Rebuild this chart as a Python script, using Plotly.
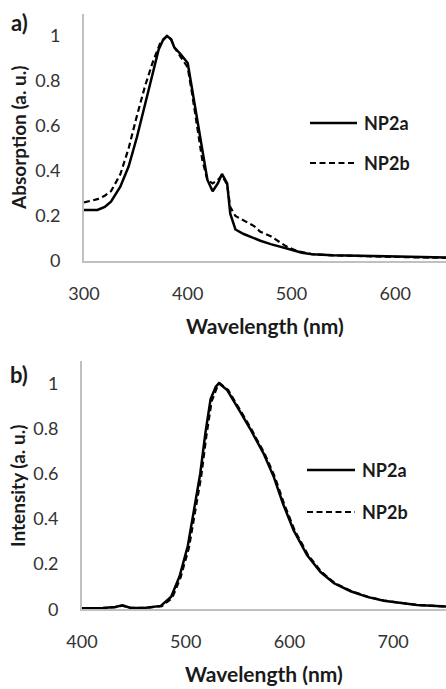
import plotly.graph_objects as go

# ---- Panel a) absorption ----
abs_wl_a = [300, 313, 320, 326, 335, 343, 351, 359, 366, 372, 376, 380, 384, 387, 393, 400, 404,
            409, 414, 419, 424, 429, 433, 438, 441, 446, 454, 464, 470, 480, 490, 500, 510, 520,
            540, 560, 580, 600, 620, 650]
abs_a = [0.227, 0.227, 0.24, 0.264, 0.33, 0.42, 0.55, 0.70, 0.83, 0.94, 0.98, 1.0, 0.985, 0.95,
         0.92, 0.88, 0.77, 0.63, 0.48, 0.36, 0.31, 0.345, 0.387, 0.345, 0.21, 0.14, 0.12, 0.10,
         0.09, 0.075, 0.064, 0.05, 0.037, 0.03, 0.026, 0.024, 0.022, 0.02, 0.018, 0.016]

abs_wl_b = [300, 313, 320, 326, 335, 343, 351, 359, 366, 374, 380, 384, 387, 393, 400, 404, 409,
            414, 419, 424, 429, 433, 438, 441, 446, 454, 464, 470, 480, 490, 495, 505, 520, 540,
            560, 580, 600, 620, 650]
abs_b = [0.26, 0.275, 0.29, 0.31, 0.385, 0.50, 0.645, 0.78, 0.88, 0.975, 1.0, 0.985, 0.95, 0.91, 0.86,
         0.75, 0.60, 0.45, 0.36, 0.345, 0.36, 0.38, 0.34, 0.24, 0.20, 0.18, 0.155, 0.13, 0.11,
         0.08, 0.065, 0.045, 0.03, 0.025, 0.022, 0.02, 0.018, 0.016, 0.014]

# ---- Panel b) emission ----
em_wl_a = [400, 420, 432, 439, 447, 460, 476, 486, 494, 502, 508, 514, 519, 524, 529, 532, 540,
           546, 553, 562, 566, 575, 585, 594, 604, 617, 630, 643, 659, 675, 691, 707, 723, 751]
em_a = [0.005, 0.006, 0.01, 0.018, 0.006, 0.006, 0.015, 0.056, 0.145, 0.28, 0.44, 0.60, 0.78,
        0.93, 0.985, 1.0, 0.97, 0.926, 0.87, 0.80, 0.765, 0.69, 0.585, 0.465, 0.35, 0.24, 0.165,
        0.115, 0.08, 0.055, 0.038, 0.028, 0.019, 0.012]

em_wl_b = [400, 420, 432, 439, 447, 460, 477, 487, 495, 503, 509, 515, 520, 525, 530, 533, 541,
           547, 554, 563, 567, 576, 586, 595, 605, 618, 631, 644, 660, 676, 692, 708, 724, 751]
em_b = [0.004, 0.005, 0.01, 0.016, 0.006, 0.006, 0.014, 0.05, 0.14, 0.27, 0.43, 0.59, 0.77,
        0.92, 0.98, 1.0, 0.97, 0.925, 0.87, 0.80, 0.765, 0.69, 0.585, 0.465, 0.35, 0.24, 0.165,
        0.115, 0.08, 0.055, 0.038, 0.028, 0.019, 0.012]

series_names = ["NP2a", "NP2b"]
y_tickvals = [0, 0.2, 0.4, 0.6, 0.8, 1]
y_ticktext = ["0", "0.2", "0.4", "0.6", "0.8", "1"]
abs_xticks = [300, 400, 500, 600]
em_xticks = [400, 500, 600, 700]

W, H = 446, 689
FONT = "Lato"
TICKC = "#333333"
AXC = "#c0c0c0"
DASH = "6px,3.5px"

def px(x):
    return x / W

def py(y):
    return 1 - y / H

fig = go.Figure()
fig.add_trace(go.Scatter(x=abs_wl_a, y=abs_a, mode="lines", name=series_names[0],
                         line=dict(color="black", width=2.5), xaxis="x", yaxis="y", showlegend=False))
fig.add_trace(go.Scatter(x=abs_wl_b, y=abs_b, mode="lines", name=series_names[1],
                         line=dict(color="black", width=2.2, dash=DASH), xaxis="x", yaxis="y", showlegend=False))
fig.add_trace(go.Scatter(x=em_wl_a, y=em_a, mode="lines", name=series_names[0],
                         line=dict(color="black", width=2.5), xaxis="x2", yaxis="y2", showlegend=False))
fig.add_trace(go.Scatter(x=em_wl_b, y=em_b, mode="lines", name=series_names[1],
                         line=dict(color="black", width=2.2, dash=DASH), xaxis="x2", yaxis="y2", showlegend=False))

common_x = dict(showline=True, linecolor=AXC, linewidth=2, showgrid=False, zeroline=False,
                automargin=False, ticks="outside", ticklen=15, tickcolor="rgba(0,0,0,0)",
                tickfont=dict(family=FONT, size=18, color=TICKC))
common_y = dict(showline=True, linecolor=AXC, linewidth=2, showgrid=False, zeroline=False,
                automargin=False, ticks="outside", ticklen=18, tickcolor="rgba(0,0,0,0)",
                tickvals=y_tickvals, ticktext=y_ticktext, range=[0, 1.1],
                tickfont=dict(family=FONT, size=18, color=TICKC))

fig.update_layout(
    template="none",
    width=W, height=H, margin=dict(l=0, r=0, t=0, b=0, pad=0), autosize=False,
    paper_bgcolor="white", plot_bgcolor="white", showlegend=False,
    xaxis=dict(domain=[px(84), 1], range=[300, 649], tickvals=abs_xticks, anchor="y", **common_x),
    yaxis=dict(domain=[py(261), py(13.5)], anchor="x", **common_y),
    xaxis2=dict(domain=[px(82), 1], range=[400, 751], tickvals=em_xticks, anchor="y2", **common_x),
    yaxis2=dict(domain=[py(609.3), py(360.7)], anchor="x2", **common_y),
)

ann = []
def text(x, y, s, size=18, angle=0, xanchor="center", bold=True, color="#1a1a1a"):
    ann.append(dict(x=px(x), y=py(y), xref="paper", yref="paper", text=f"<b>{s}</b>" if bold else s,
                    showarrow=False, textangle=angle, xanchor=xanchor, yanchor="middle",
                    font=dict(family=FONT, size=size, color=color)))

text(19, 23, "a)", size=22)
text(19, 374, "b)", size=22)
text(18, 138, "Absorption (a. u.)", size=19, angle=-90)
text(17, 486, "Intensity (a. u.)", size=19, angle=-90)
text(265, 325, "Wavelength (nm)", size=21)
text(264, 673, "Wavelength (nm)", size=21)

# legends
legend_rows = [(310, 357, 123, 362), (310, 357, 163, 362)]
legend_rows_b = [(307, 355, 470, 360), (307, 355, 512, 360)]
shapes = []
for rows in (legend_rows, legend_rows_b):
    for i, (x0, x1, yy, tx) in enumerate(rows):
        shapes.append(dict(type="line", xref="paper", yref="paper", x0=px(x0), x1=px(x1), y0=py(yy), y1=py(yy),
                           line=dict(color="black", width=2.5 if i == 0 else 2.2,
                                     dash="solid" if i == 0 else DASH)))
        text(tx, yy, series_names[i], size=18, xanchor="left")

fig.update_layout(annotations=ann, shapes=shapes)
fig.write_html("out.html", config={"displayModeBar": False},
               post_script="document.body.style.margin='0';document.body.style.overflow='hidden';")
